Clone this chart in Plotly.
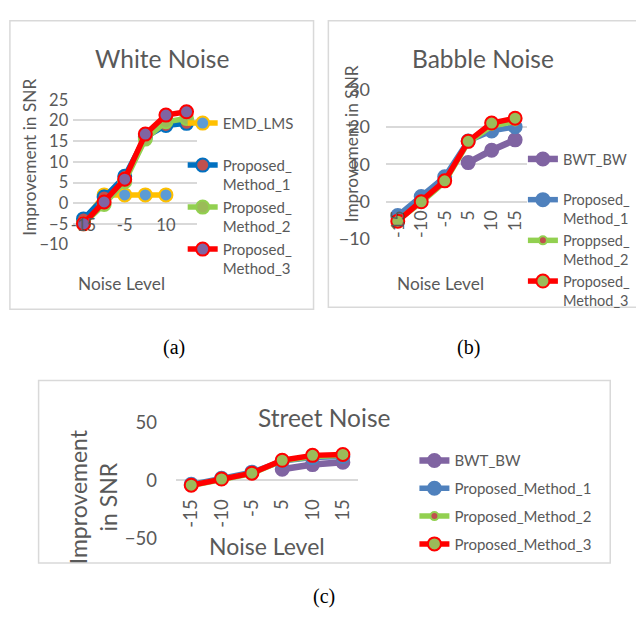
import plotly.graph_objects as go

W, H = 636, 626

categories = ["-15", "-10", "-5", "5", "10", "15"]

# White noise (a)
white_emd_lms = [-4.5, 2.0, 2.0, 2.0, 2.0, None]
white_m1 = [-3.8, 1.5, 6.5, 16.0, 18.8, 19.3]
white_m2 = [-5.0, -0.3, 5.2, 15.5, 19.7, 20.5]
white_m3 = [-5.0, 0.3, 5.8, 16.7, 21.3, 22.1]

# Babble noise (b)
babble_bwt = [None, None, None, 10.5, 13.8, 16.6]
babble_m1 = [-3.7, 1.4, 6.7, 16.3, 19.0, 20.1]
babble_m2 = [-5.0, -0.2, 5.3, 15.9, 20.3, 21.5]
babble_m3 = [-5.2, 0.0, 5.6, 16.2, 21.1, 22.4]

# Street noise (c)
street_bwt = [None, None, None, 9.5, 13.5, 15.5]
street_m1 = [-3.5, 1.8, 7.0, 16.5, 19.5, 20.5]
street_m2 = [-4.5, 0.8, 5.8, 16.8, 20.5, 21.5]
street_m3 = [-4.2, 1.1, 6.1, 17.2, 21.4, 22.2]

white_names = ["EMD_LMS<br>&nbsp;", "Proposed_<br>Method_1", "Proposed_<br>Method_2", "Proposed_<br>Method_3"]
babble_names = ["BWT_BW<br>&nbsp;", "Proposed_<br>Method_1", "Proppsed_<br>Method_2", "Proposed_<br>Method_3"]
street_names = ["BWT_BW", "Proposed_Method_1", "Proposed_Method_2", "Proposed_Method_3"]

FONT = "Lato"
GRAY = "#595959"
GRID = "#D9D9D9"


def fx(px):
    return px / W


def fy(py):
    return 1 - py / H


fig = go.Figure()


def add(y, name, xa, ya, leg, line_color, fill, border, lw=5.5, ms=13, mlw=2, grp=""):
    fig.add_trace(go.Scatter(
        x=categories, y=y, name=name, mode="lines+markers",
        xaxis=xa, yaxis=ya, legend=leg, legendgroup=grp + name,
        line=dict(color=line_color, width=lw),
        marker=dict(size=ms, color=fill, line=dict(color=border, width=mlw)),
    ))


# (a)
add(white_emd_lms, white_names[0], "x", "y", "legend", "#FFC000", "#5B9BD5", "#FFC000", grp="a")
add(white_m1, white_names[1], "x", "y", "legend", "#0070C0", "#C0504D", "#0070C0", grp="a")
add(white_m2, white_names[2], "x", "y", "legend", "#92D050", "#9BBB59", "#92D050", grp="a")
add(white_m3, white_names[3], "x", "y", "legend", "#FF0000", "#8064A2", "#FF0000", grp="a")

# (b)
add(babble_bwt, babble_names[0], "x2", "y2", "legend2", "#8064A2", "#8064A2", "#8064A2", lw=6.5, grp="b")
add(babble_m1, babble_names[1], "x2", "y2", "legend2", "#4F81BD", "#4F81BD", "#4F81BD", grp="b")
add(babble_m2, babble_names[2], "x2", "y2", "legend2", "#92D050", "#C0504D", "#92D050", ms=8, grp="b")
add(babble_m3, babble_names[3], "x2", "y2", "legend2", "#FF0000", "#9BBB59", "#FF0000", grp="b")

# (c)
add(street_bwt, street_names[0], "x3", "y3", "legend3", "#8064A2", "#8064A2", "#8064A2", lw=6.5, grp="c")
add(street_m1, street_names[1], "x3", "y3", "legend3", "#4F81BD", "#4F81BD", "#4F81BD", grp="c")
add(street_m2, street_names[2], "x3", "y3", "legend3", "#92D050", "#C0504D", "#92D050", ms=8, grp="c")
add(street_m3, street_names[3], "x3", "y3", "legend3", "#FF0000", "#9BBB59", "#FF0000", grp="c")


def xax(x0, x1, ypos, size, angle=0, tickvals=None, standoff=0):
    d = dict(type="category", categoryorder="array", categoryarray=categories,
             range=[-0.5, 5.5], domain=[fx(x0), fx(x1)], anchor="free", position=fy(ypos),
             showgrid=False, showline=False, zeroline=False, ticks="",
             tickangle=angle, tickfont=dict(family=FONT, size=size, color=GRAY),
             ticklabelstandoff=standoff)
    if tickvals is not None:
        d["tickmode"] = "array"
        d["tickvals"] = tickvals
        d["ticktext"] = tickvals
    return d


def yax(y0, y1, rng, dt, anchor, size, standoff=0):
    return dict(range=rng, dtick=dt, domain=[fy(y1), fy(y0)], anchor=anchor,
                showgrid=True, gridcolor=GRID, gridwidth=1.5, zeroline=False,
                showline=False, ticks="", tickfont=dict(family=FONT, size=size, color=GRAY),
                ticklabelstandoff=standoff)


legend_common = dict(bgcolor="rgba(0,0,0,0)", traceorder="grouped", valign="top",
                     xanchor="left", yanchor="top")

fig.update_layout(
    width=W, height=H, margin=dict(l=0, r=0, t=0, b=0),
    paper_bgcolor="white", plot_bgcolor="rgba(0,0,0,0)",
    xaxis=xax(72, 197, 198, 16.5, 0, tickvals=categories[::2], standoff=10),
    yaxis=yax(91, 241, [-10, 25], 5, "x", 16.5, standoff=4),
    xaxis2=xax(388.3, 530.7, 196.7, 18, -90, standoff=4),
    yaxis2=yax(80.7, 235.3, [-10, 30], 10, "x2", 18, standoff=15),
    xaxis3=xax(176, 360, 485.7, 18.5, -90, standoff=14),
    yaxis3=yax(425, 545.7, [-50, 50], 50, "x3", 18.5, standoff=18),
    legend=dict(x=fx(182.7), y=fy(98.3), font=dict(family=FONT, size=15, color=GRAY),
                tracegroupgap=0, **legend_common),
    legend2=dict(x=fx(526.7), y=fy(135.8), font=dict(family=FONT, size=14.5, color=GRAY),
                 tracegroupgap=0, **legend_common),
    legend3=dict(x=fx(417), y=fy(448), font=dict(family=FONT, size=15, color=GRAY),
                 tracegroupgap=5.3, **legend_common),
    showlegend=True,
)

shapes = []
for (x0, y0, x1, y1) in [(8, 9, 315, 308), (330, 9, 645, 306), (37, 382, 615, 571)]:
    shapes.append(dict(type="rect", xref="paper", yref="paper",
                       x0=fx(x0), x1=fx(x1), y0=fy(y1), y1=fy(y0),
                       line=dict(color="#D9D9D9", width=1.5), fillcolor="rgba(0,0,0,0)",
                       layer="below"))
fig.update_layout(shapes=shapes)

ann = []


def text(s, x, y, size, angle=0, family=FONT, color=GRAY):
    ann.append(dict(text=s, x=fx(x), y=fy(y), xref="paper", yref="paper",
                    showarrow=False, xanchor="center", yanchor="middle",
                    textangle=angle, font=dict(family=family, size=size, color=color)))


text("White Noise", 161.7, 47.7, 24.5)
text("Babble Noise", 486.3, 47.7, 24.5)
text("Street Noise", 326, 420, 24.5)
text("Improvement in SNR", 28.3, 150, 17.3, angle=-90)
text("Improvement in SNR", 353.3, 136.7, 17.3, angle=-90)
text("Improvement<br>in SNR", 92, 502, 23, angle=-90)
text("Noise Level", 121, 281, 17.3)
text("Noise Level", 443.7, 281, 17.3)
text("Noise Level", 268, 553, 23)
text("(a)", 174, 348, 20, family="Liberation Serif", color="black")
text("(b)", 472, 348, 20, family="Liberation Serif", color="black")
text("(c)", 326, 606, 20, family="Liberation Serif", color="black")
fig.update_layout(annotations=ann)

fig.write_html("out.html")
